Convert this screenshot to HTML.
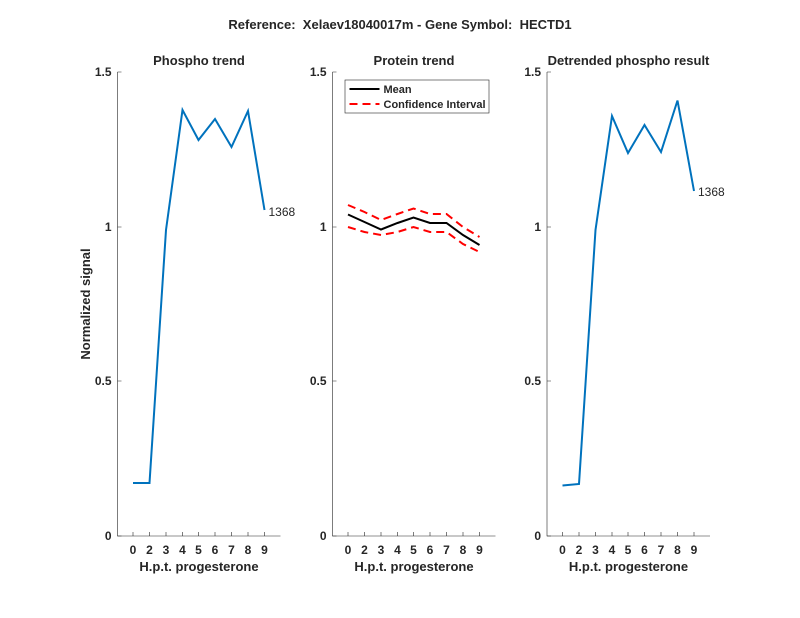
<!DOCTYPE html>
<html><head><style>body{margin:0;background:#fff}svg{display:block}text{font-family:"Liberation Sans",Arial,sans-serif;fill:#262626}</style></head>
<body>
<svg width="800" height="618" viewBox="0 0 800 618" xmlns="http://www.w3.org/2000/svg">
<rect width="800" height="618" fill="#fff"/>
<text x="400" y="29" font-size="13" font-weight="bold" text-anchor="middle" fill="#000" xml:space="preserve" style="white-space:pre">Reference:  Xelaev18040017m - Gene Symbol:  HECTD1</text>
<defs>
<g id="ax">
<path d="M0 72V536H163" fill="none" stroke="#262626" stroke-width="0.6"/>
<path d="M0 72h4M0 227h4M0 381h4M0 536h4" stroke="#262626" stroke-width="0.6"/>
<g stroke="#262626" stroke-width="0.6">
<path d="M15.5 536v-4M32 536v-4M48.5 536v-4M65 536v-4M81 536v-4M97.5 536v-4M114 536v-4M130.5 536v-4M147 536v-4"/>
</g>
<g font-size="12" font-weight="bold" text-anchor="end">
<text x="-6" y="76">1.5</text><text x="-6" y="231">1</text><text x="-6" y="385">0.5</text><text x="-6" y="540">0</text>
</g>
<g font-size="12" font-weight="bold" text-anchor="middle">
<text x="15.5" y="554">0</text><text x="32" y="554">2</text><text x="48.5" y="554">3</text><text x="65" y="554">4</text><text x="81" y="554">5</text><text x="97.5" y="554">6</text><text x="114" y="554">7</text><text x="130.5" y="554">8</text><text x="147" y="554">9</text>
<text x="81.5" y="571" font-size="13">H.p.t. progesterone</text>
</g>
</g>
</defs>
<g transform="translate(117.5,0)"><use href="#ax"/>
<text x="81.5" y="65" font-size="13" font-weight="bold" text-anchor="middle" fill="#000">Phospho trend</text>
<polyline points="15.5,483 32,483 48.5,230 65,110 81,140 97.5,119 114,147 130.5,111 147,210" fill="none" stroke="#0072BD" stroke-width="2"/>
<text x="151" y="216" font-size="12" fill="#000">1368</text>
</g>
<g transform="translate(332.5,0)"><use href="#ax"/>
<text x="81.5" y="65" font-size="13" font-weight="bold" text-anchor="middle" fill="#000">Protein trend</text>
<polyline points="15.5,205 32,212 48.5,220 65,214 81,208.5 97.5,214 114,214 130.5,227 147,237" fill="none" stroke="#f00" stroke-width="2" stroke-dasharray="8,5"/>
<polyline points="15.5,227 32,232 48.5,235 65,232 81,227 97.5,232 114,232 130.5,244 147,252" fill="none" stroke="#f00" stroke-width="2" stroke-dasharray="8,5"/>
<polyline points="15.5,214.5 32,222 48.5,229.5 65,223 81,217.5 97.5,223 114,223 130.5,235 147,245" fill="none" stroke="#000" stroke-width="2"/>
<rect x="12.5" y="80" width="144" height="33" fill="#fff" stroke="#262626" stroke-width="0.6"/>
<line x1="17" y1="89" x2="47" y2="89" stroke="#000" stroke-width="2"/>
<line x1="17" y1="104" x2="47" y2="104" stroke="#f00" stroke-width="2" stroke-dasharray="8,5"/>
<text x="51" y="93" font-size="11" font-weight="bold" fill="#000">Mean</text>
<text x="51" y="108" font-size="11" font-weight="bold" fill="#000">Confidence Interval</text>
</g>
<g transform="translate(547,0)"><use href="#ax"/>
<text x="81.5" y="65" font-size="13" font-weight="bold" text-anchor="middle" fill="#000">Detrended phospho result</text>
<polyline points="15.5,485.5 32,484 48.5,230 65,116 81,153 97.5,125 114,152 130.5,100.5 147,191" fill="none" stroke="#0072BD" stroke-width="2"/>
<text x="151" y="196" font-size="12" fill="#000">1368</text>
</g>
<text transform="translate(90,304) rotate(-90)" font-size="13" font-weight="bold" text-anchor="middle">Normalized signal</text>
</svg>
</body></html>
